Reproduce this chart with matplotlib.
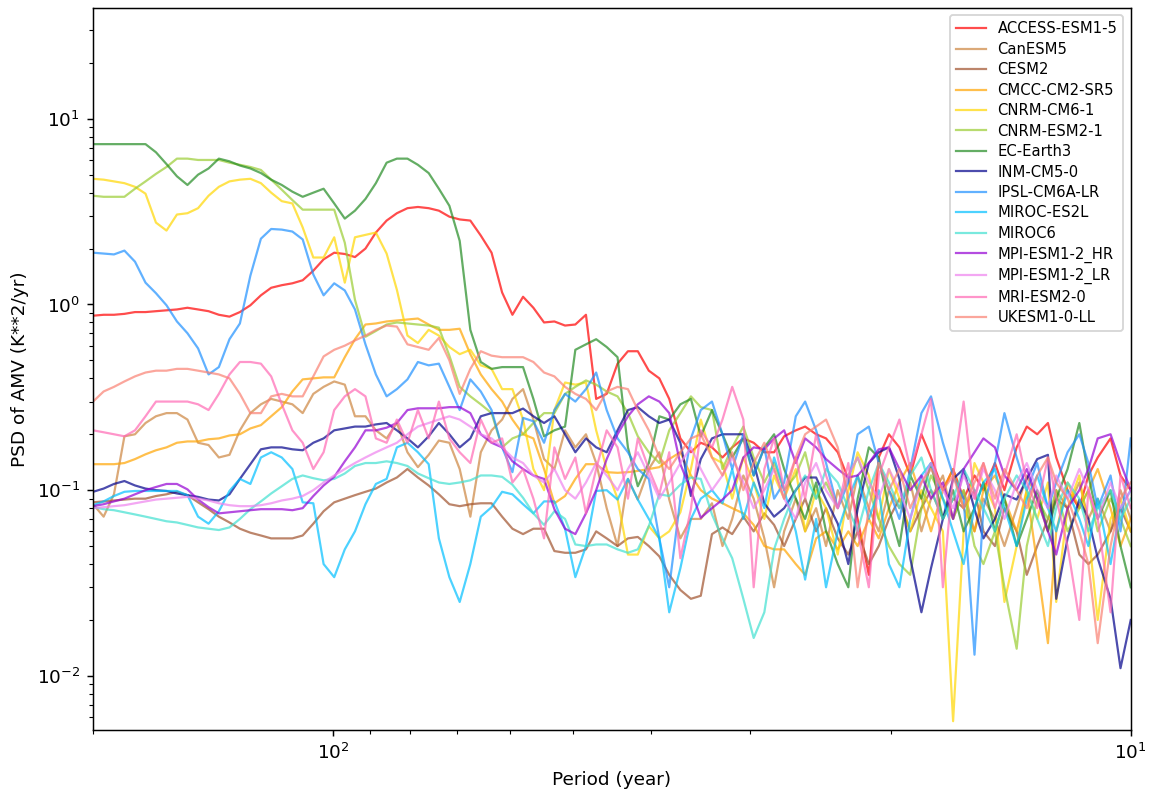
import matplotlib.pyplot as plt

# Period axis (years), shared by all models
periods = [
    200.0, 194.0, 188.3, 182.7, 177.2, 171.9, 166.8, 161.8, 157.0, 152.3,
    147.7, 143.3, 139.1, 134.9, 130.9, 127.0, 123.2, 119.6, 116.0, 112.5,
    109.2, 105.9, 102.8, 99.7, 96.7, 93.9, 91.1, 88.4, 85.7, 83.2,
    80.7, 78.3, 75.9, 73.7, 71.5, 69.4, 67.3, 65.3, 63.3, 61.4,
    59.6, 57.8, 56.1, 54.4, 52.8, 51.2, 49.7, 48.2, 46.8, 45.4,
    44.0, 42.7, 41.5, 40.2, 39.0, 37.9, 36.7, 35.6, 34.6, 33.5,
    32.5, 31.6, 30.6, 29.7, 28.8, 28.0, 27.2, 26.3, 25.6, 24.8,
    24.1, 23.3, 22.6, 22.0, 21.3, 20.7, 20.1, 19.5, 18.9, 18.3,
    17.8, 17.2, 16.7, 16.2, 15.7, 15.3, 14.8, 14.4, 13.9, 13.5,
    13.1, 12.7, 12.4, 12.0, 11.6, 11.3, 11.0, 10.6, 10.3, 10.0,
]

# PSD of AMV (K**2/yr) for each model
access = [
    0.87, 0.88, 0.88, 0.89, 0.91, 0.91, 0.92, 0.93, 0.94, 0.96,
    0.94, 0.92, 0.88, 0.86, 0.91, 0.99, 1.12, 1.23, 1.27, 1.3,
    1.35, 1.52, 1.75, 1.9, 1.87, 1.8, 2.0, 2.44, 2.83, 3.1,
    3.3, 3.35, 3.3, 3.2, 2.97, 2.87, 2.83, 2.35, 1.9, 1.16,
    0.88, 1.1, 0.96, 0.8, 0.81, 0.77, 0.78, 0.88, 0.31, 0.33,
    0.48, 0.56, 0.56, 0.44, 0.4, 0.31, 0.19, 0.16, 0.18, 0.17,
    0.15, 0.17, 0.19, 0.18, 0.16, 0.16, 0.195, 0.21, 0.22, 0.2,
    0.19, 0.16, 0.115, 0.07, 0.035, 0.15, 0.2, 0.17, 0.12, 0.2,
    0.15, 0.1, 0.13, 0.09, 0.12, 0.1, 0.14, 0.1, 0.17, 0.22,
    0.2, 0.23, 0.15, 0.1, 0.08, 0.12, 0.15, 0.19, 0.12, 0.1,
]
canesm5 = [
    0.084, 0.072, 0.095, 0.195, 0.2, 0.23, 0.25, 0.26, 0.26, 0.24,
    0.18, 0.175, 0.15, 0.155, 0.21, 0.26, 0.29, 0.31, 0.3, 0.29,
    0.26, 0.33, 0.36, 0.385, 0.37, 0.25, 0.25, 0.21, 0.19, 0.23,
    0.16, 0.133, 0.155, 0.185, 0.18, 0.13, 0.072, 0.16, 0.21, 0.24,
    0.31, 0.35, 0.24, 0.147, 0.13, 0.21, 0.17, 0.2, 0.14, 0.08,
    0.05, 0.115, 0.089, 0.13, 0.16, 0.089, 0.055, 0.07, 0.07, 0.085,
    0.05, 0.07, 0.12, 0.09, 0.055, 0.03, 0.06, 0.09, 0.06, 0.08,
    0.05, 0.1, 0.07, 0.12, 0.08, 0.06, 0.1, 0.08, 0.11, 0.06,
    0.09, 0.12, 0.07, 0.1, 0.06, 0.09, 0.07, 0.05, 0.08, 0.12,
    0.09, 0.06, 0.1, 0.08, 0.11, 0.07, 0.09, 0.06, 0.1, 0.07,
]
cesm2 = [
    0.086, 0.087, 0.088, 0.089, 0.09, 0.09, 0.093, 0.095, 0.098, 0.094,
    0.086, 0.079, 0.072, 0.067, 0.062, 0.059, 0.057, 0.055, 0.055, 0.055,
    0.057, 0.066, 0.077, 0.086, 0.09, 0.094, 0.098, 0.102, 0.11, 0.117,
    0.13, 0.117, 0.106, 0.095, 0.084, 0.082, 0.084, 0.085, 0.085, 0.072,
    0.062, 0.058, 0.062, 0.062, 0.047, 0.046, 0.046, 0.048, 0.06, 0.055,
    0.05, 0.055, 0.056, 0.05, 0.044, 0.035, 0.029, 0.026, 0.027, 0.058,
    0.063, 0.058, 0.072, 0.06, 0.075, 0.065, 0.05, 0.07, 0.09, 0.06,
    0.08, 0.055, 0.045, 0.06, 0.04, 0.05, 0.07, 0.09, 0.06, 0.08,
    0.1, 0.07, 0.09, 0.08, 0.1, 0.06, 0.05, 0.08, 0.06, 0.035,
    0.05, 0.07, 0.09, 0.08, 0.045, 0.04, 0.045, 0.06, 0.08, 0.06,
]
cmcc = [
    0.138, 0.138, 0.138, 0.14, 0.147, 0.156, 0.164, 0.17, 0.18, 0.183,
    0.183, 0.188, 0.19, 0.197, 0.2, 0.215, 0.224, 0.25, 0.28, 0.34,
    0.395, 0.4, 0.405, 0.405, 0.52, 0.65, 0.78, 0.79, 0.81, 0.82,
    0.83, 0.84, 0.78, 0.73, 0.73, 0.74, 0.54, 0.42, 0.35, 0.3,
    0.24, 0.2, 0.19, 0.13, 0.085, 0.093, 0.115, 0.138, 0.138, 0.125,
    0.124, 0.125, 0.127, 0.13, 0.133, 0.147, 0.16, 0.12, 0.1, 0.09,
    0.085, 0.08, 0.075, 0.065, 0.05, 0.048, 0.048, 0.04, 0.035, 0.055,
    0.06, 0.048, 0.06, 0.05, 0.07, 0.055, 0.08, 0.11, 0.14, 0.09,
    0.06, 0.1, 0.13, 0.08, 0.06, 0.1, 0.12, 0.09, 0.06, 0.1,
    0.04, 0.015, 0.06, 0.11, 0.08, 0.1, 0.13, 0.08, 0.05, 0.07,
]
cnrm_cm6 = [
    4.75, 4.7, 4.6, 4.5, 4.3, 3.95, 2.76, 2.5, 3.05, 3.1,
    3.3, 3.85, 4.3, 4.6, 4.7, 4.75, 4.5, 4.0, 3.6, 3.5,
    2.6, 1.79, 1.79, 2.3, 1.31, 2.3, 2.37, 2.44, 1.88, 1.2,
    0.68, 0.62, 0.73, 0.68, 0.59, 0.54, 0.57, 0.47, 0.45, 0.35,
    0.35, 0.24, 0.13, 0.1, 0.27, 0.38, 0.37, 0.38, 0.21, 0.13,
    0.09, 0.045, 0.045, 0.064, 0.055, 0.06, 0.076, 0.13, 0.24, 0.15,
    0.14, 0.09, 0.15, 0.11, 0.07, 0.12, 0.09, 0.13, 0.06, 0.1,
    0.08, 0.045, 0.1, 0.16, 0.12, 0.07, 0.13, 0.09, 0.06, 0.1,
    0.08, 0.06, 0.0057, 0.06, 0.14, 0.11, 0.08, 0.025, 0.05, 0.1,
    0.07, 0.11, 0.025, 0.08, 0.12, 0.06, 0.02, 0.07, 0.09, 0.06,
]
cnrm_esm = [
    3.85, 3.8, 3.8, 3.8, 4.2, 4.6, 5.05, 5.5, 6.1, 6.1,
    6.0, 6.0, 6.0, 5.8, 5.65, 5.5, 5.3, 4.7, 4.15, 3.65,
    3.24, 3.24, 3.24, 3.24, 2.15, 1.06, 0.67, 0.72, 0.78, 0.8,
    0.79, 0.78, 0.77, 0.75, 0.53, 0.36, 0.32, 0.29, 0.26, 0.17,
    0.19, 0.2, 0.23, 0.26, 0.26, 0.33, 0.36, 0.39, 0.37, 0.34,
    0.32, 0.26, 0.195, 0.16, 0.14, 0.21, 0.26, 0.32, 0.28, 0.27,
    0.13, 0.17, 0.22, 0.15, 0.11, 0.14, 0.1, 0.12, 0.16, 0.09,
    0.11, 0.08, 0.12, 0.15, 0.1, 0.07, 0.05, 0.04, 0.035, 0.08,
    0.12, 0.09, 0.07, 0.1, 0.05, 0.04, 0.06, 0.03, 0.014, 0.05,
    0.09, 0.07, 0.1, 0.06, 0.08, 0.1, 0.06, 0.09, 0.07, 0.05,
]
ec_earth = [
    7.3, 7.3, 7.3, 7.3, 7.3, 7.3, 6.6, 5.7, 4.9, 4.4,
    5.0, 5.4, 6.1, 5.9, 5.6, 5.4, 5.1, 4.7, 4.4, 4.05,
    3.8, 4.0, 4.2, 3.5, 2.9, 3.2, 3.7, 4.5, 5.8, 6.1,
    6.1, 5.65, 5.1, 4.2, 3.4, 2.2, 0.73, 0.49, 0.45, 0.46,
    0.46, 0.46, 0.31, 0.195, 0.21, 0.22, 0.57, 0.61, 0.65, 0.59,
    0.52, 0.17, 0.105, 0.14, 0.25, 0.24, 0.29, 0.31, 0.195, 0.27,
    0.2, 0.15, 0.19, 0.12, 0.17, 0.2, 0.13, 0.09, 0.07, 0.11,
    0.06, 0.04, 0.03, 0.09, 0.17, 0.15, 0.08, 0.05, 0.12, 0.09,
    0.14, 0.07, 0.1, 0.06, 0.08, 0.11, 0.06, 0.09, 0.05, 0.07,
    0.1, 0.06, 0.09, 0.13, 0.23, 0.12, 0.07, 0.1, 0.05, 0.03,
]
inm = [
    0.098, 0.102, 0.108, 0.112, 0.106, 0.102, 0.1, 0.099, 0.096, 0.094,
    0.092, 0.089, 0.088, 0.095, 0.115, 0.138, 0.166, 0.17, 0.17, 0.166,
    0.164, 0.18, 0.19, 0.21, 0.215, 0.22, 0.22, 0.226, 0.23, 0.21,
    0.19, 0.17, 0.195, 0.23, 0.2, 0.17, 0.19, 0.25, 0.26, 0.26,
    0.26, 0.275, 0.25, 0.23, 0.25, 0.2, 0.16, 0.19, 0.17, 0.16,
    0.21, 0.27, 0.28, 0.25, 0.23, 0.24, 0.18, 0.093, 0.147, 0.19,
    0.2, 0.2, 0.2, 0.14, 0.085, 0.072, 0.08, 0.1, 0.117, 0.117,
    0.089, 0.066, 0.04, 0.079, 0.14, 0.16, 0.17, 0.115, 0.043, 0.022,
    0.038, 0.07, 0.115, 0.13, 0.079, 0.055, 0.07, 0.095, 0.089, 0.115,
    0.147, 0.155, 0.026, 0.055, 0.089, 0.07, 0.043, 0.026, 0.011, 0.02,
]
ipsl = [
    1.9, 1.88, 1.86, 1.95, 1.7, 1.31, 1.15, 0.99, 0.81, 0.7,
    0.58, 0.42, 0.46, 0.65, 0.79, 1.43, 2.26, 2.55, 2.53, 2.47,
    2.24, 1.45, 1.12, 1.3, 1.19, 0.94, 0.61, 0.42, 0.32, 0.35,
    0.395, 0.49, 0.47, 0.48, 0.36, 0.27, 0.395, 0.34, 0.27, 0.17,
    0.125, 0.245, 0.235, 0.18, 0.27, 0.33, 0.3, 0.35, 0.43, 0.27,
    0.19, 0.16, 0.13, 0.115, 0.055, 0.03, 0.09, 0.19, 0.27, 0.3,
    0.2, 0.13, 0.2, 0.12, 0.17, 0.09, 0.11, 0.25, 0.3, 0.21,
    0.14, 0.08, 0.11, 0.2, 0.22, 0.14, 0.1, 0.07, 0.13, 0.26,
    0.32, 0.18, 0.12, 0.09, 0.013, 0.08, 0.14, 0.26, 0.15, 0.1,
    0.14, 0.08, 0.11, 0.16, 0.2, 0.14, 0.08, 0.12, 0.06, 0.19,
]
miroc_es2l = [
    0.083, 0.087, 0.093, 0.098, 0.099, 0.099, 0.099, 0.099, 0.099, 0.094,
    0.072, 0.066, 0.077, 0.099, 0.115, 0.108, 0.15, 0.16, 0.15, 0.13,
    0.086, 0.085, 0.04, 0.034, 0.048, 0.06, 0.084, 0.108, 0.115, 0.17,
    0.18, 0.16, 0.138, 0.055, 0.034, 0.025, 0.04, 0.072, 0.081, 0.098,
    0.095, 0.084, 0.075, 0.087, 0.087, 0.062, 0.034, 0.05, 0.099, 0.1,
    0.089, 0.115, 0.089, 0.07, 0.055, 0.022, 0.038, 0.07, 0.09, 0.1,
    0.085, 0.13, 0.07, 0.11, 0.08, 0.15, 0.1, 0.06, 0.033, 0.07,
    0.03, 0.06, 0.09, 0.12, 0.07, 0.1, 0.04, 0.03, 0.07, 0.12,
    0.14, 0.09, 0.06, 0.04, 0.08, 0.11, 0.13, 0.08, 0.05, 0.09,
    0.12, 0.08, 0.06, 0.1, 0.07, 0.05, 0.09, 0.04, 0.08, 0.1,
]
miroc6 = [
    0.081, 0.079, 0.078, 0.076, 0.074, 0.072, 0.07, 0.068, 0.067, 0.065,
    0.063, 0.062, 0.061, 0.063, 0.07, 0.079, 0.087, 0.096, 0.105, 0.115,
    0.12, 0.116, 0.113, 0.115, 0.123, 0.135, 0.14, 0.14, 0.143, 0.14,
    0.135, 0.123, 0.116, 0.11, 0.108, 0.11, 0.113, 0.12, 0.12, 0.118,
    0.107, 0.091, 0.075, 0.065, 0.077, 0.07, 0.051, 0.05, 0.051, 0.051,
    0.048, 0.046, 0.048, 0.064, 0.095, 0.093, 0.107, 0.117, 0.115, 0.074,
    0.055, 0.043, 0.026, 0.016, 0.022, 0.048, 0.07, 0.1, 0.12, 0.09,
    0.13, 0.11, 0.08, 0.06, 0.1, 0.14, 0.11, 0.08, 0.12, 0.15,
    0.1, 0.07, 0.09, 0.13, 0.1, 0.08, 0.06, 0.09, 0.12, 0.1,
    0.07, 0.05, 0.08, 0.11, 0.09, 0.06, 0.08, 0.1, 0.07, 0.09,
]
mpi_hr = [
    0.082, 0.084, 0.087, 0.09, 0.095, 0.1, 0.104, 0.108, 0.108, 0.101,
    0.089, 0.081, 0.075, 0.076, 0.077, 0.078, 0.079, 0.079, 0.079, 0.078,
    0.08, 0.093, 0.106, 0.118, 0.143, 0.17, 0.21, 0.21, 0.217, 0.23,
    0.27, 0.276, 0.276, 0.276, 0.28, 0.28, 0.26, 0.2, 0.18, 0.17,
    0.143, 0.13, 0.12, 0.115, 0.079, 0.062, 0.058, 0.075, 0.1, 0.147,
    0.2, 0.25, 0.29, 0.32, 0.3, 0.26, 0.138, 0.1, 0.071, 0.08,
    0.089, 0.1, 0.15, 0.17, 0.166, 0.19, 0.21, 0.14, 0.19, 0.17,
    0.147, 0.13, 0.117, 0.12, 0.14, 0.166, 0.17, 0.13, 0.1, 0.12,
    0.09, 0.11, 0.07, 0.13, 0.16, 0.19, 0.17, 0.12, 0.1, 0.13,
    0.09, 0.06, 0.045, 0.08, 0.1, 0.13, 0.19, 0.2, 0.14, 0.1,
]
mpi_lr = [
    0.08, 0.081, 0.082, 0.083, 0.085, 0.087, 0.089, 0.09, 0.091, 0.092,
    0.09, 0.088, 0.085, 0.083, 0.082, 0.082, 0.083, 0.085, 0.088, 0.09,
    0.093, 0.1, 0.11, 0.12, 0.13, 0.14, 0.15, 0.16, 0.17, 0.18,
    0.2, 0.22, 0.23, 0.24, 0.25, 0.24, 0.22, 0.2, 0.19, 0.17,
    0.15, 0.14, 0.12, 0.11, 0.13, 0.1, 0.09, 0.11, 0.14, 0.12,
    0.1, 0.13, 0.16, 0.12, 0.09, 0.11, 0.14, 0.17, 0.13, 0.1,
    0.12, 0.15, 0.11, 0.08, 0.1, 0.13, 0.09, 0.07, 0.11, 0.14,
    0.1, 0.08, 0.12, 0.15, 0.11, 0.09, 0.13, 0.1, 0.07, 0.11,
    0.14, 0.1, 0.08, 0.12, 0.09, 0.13, 0.1, 0.07, 0.11, 0.14,
    0.1, 0.08, 0.12, 0.09, 0.13, 0.1, 0.07, 0.11, 0.08, 0.1,
]
mri = [
    0.21, 0.205, 0.2, 0.195, 0.21, 0.25, 0.3, 0.3, 0.3, 0.3,
    0.29, 0.27, 0.33, 0.42, 0.49, 0.49, 0.48, 0.41, 0.29, 0.21,
    0.18, 0.13, 0.16, 0.27, 0.32, 0.35, 0.32, 0.19, 0.18, 0.24,
    0.18, 0.27, 0.19, 0.3, 0.19, 0.16, 0.14, 0.24, 0.18, 0.19,
    0.11, 0.13, 0.09, 0.055, 0.17, 0.115, 0.15, 0.075, 0.13, 0.21,
    0.17, 0.09, 0.19, 0.13, 0.095, 0.16, 0.043, 0.079, 0.21, 0.17,
    0.24, 0.36, 0.24, 0.03, 0.13, 0.19, 0.1, 0.15, 0.09, 0.2,
    0.12, 0.08, 0.14, 0.06, 0.03, 0.12, 0.17, 0.24, 0.13, 0.2,
    0.31, 0.03, 0.12, 0.3, 0.09, 0.14, 0.08, 0.12, 0.2, 0.11,
    0.08, 0.15, 0.09, 0.05, 0.02, 0.1, 0.07, 0.022, 0.12, 0.08,
]
ukesm = [
    0.3, 0.34, 0.36, 0.385, 0.41, 0.43, 0.44, 0.44, 0.45, 0.45,
    0.44, 0.43, 0.42, 0.4, 0.33, 0.26, 0.26, 0.32, 0.33, 0.32,
    0.32, 0.41, 0.525, 0.57, 0.6, 0.64, 0.68, 0.73, 0.77, 0.76,
    0.61, 0.59, 0.57, 0.66, 0.5, 0.33, 0.45, 0.56, 0.53, 0.52,
    0.52, 0.52, 0.49, 0.43, 0.41, 0.36, 0.33, 0.31, 0.27, 0.34,
    0.36, 0.35, 0.27, 0.21, 0.15, 0.13, 0.16, 0.19, 0.2, 0.15,
    0.12, 0.16, 0.1, 0.14, 0.18, 0.13, 0.09, 0.15, 0.2, 0.22,
    0.24, 0.17, 0.09, 0.03, 0.08, 0.14, 0.1, 0.13, 0.08, 0.11,
    0.13, 0.1, 0.12, 0.08, 0.11, 0.14, 0.09, 0.13, 0.1, 0.08,
    0.12, 0.15, 0.11, 0.09, 0.06, 0.04, 0.015, 0.05, 0.09, 0.11,
]

models = [
    ("ACCESS-ESM1-5", access, "red"),
    ("CanESM5", canesm5, "peru"),
    ("CESM2", cesm2, "sienna"),
    ("CMCC-CM2-SR5", cmcc, "orange"),
    ("CNRM-CM6-1", cnrm_cm6, "gold"),
    ("CNRM-ESM2-1", cnrm_esm, "yellowgreen"),
    ("EC-Earth3", ec_earth, "forestgreen"),
    ("INM-CM5-0", inm, "darkblue"),
    ("IPSL-CM6A-LR", ipsl, "dodgerblue"),
    ("MIROC-ES2L", miroc_es2l, "deepskyblue"),
    ("MIROC6", miroc6, "turquoise"),
    ("MPI-ESM1-2_HR", mpi_hr, "darkviolet"),
    ("MPI-ESM1-2_LR", mpi_lr, "violet"),
    ("MRI-ESM2-0", mri, "hotpink"),
    ("UKESM1-0-LL", ukesm, "salmon"),
]

fig = plt.figure(figsize=(8.64, 6.0), dpi=133)
ax = fig.add_axes([0.081, 0.085, 0.903, 0.905])

for name, psd, color in models:
    ax.plot(periods, psd, color=color, alpha=0.7, linewidth=1.2, label=name)

ax.set_xscale("log")
ax.set_yscale("log")
ax.set_xlim(200, 10)
ax.set_ylim(0.0051, 39.5)
ax.set_xlabel("Period (year)")
ax.set_ylabel("PSD of AMV (K**2/yr)")
ax.legend(loc="upper right", fontsize=8, labelspacing=0.37)

plt.savefig("out.png", dpi=133)
